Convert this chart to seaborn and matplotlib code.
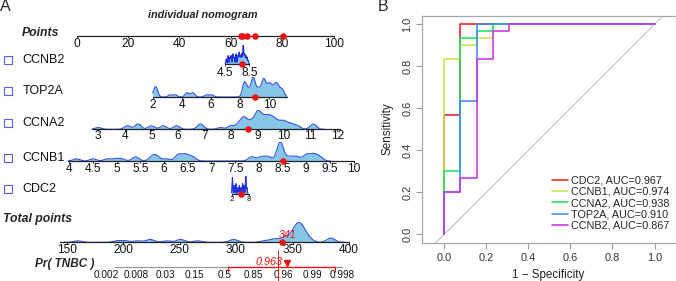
import numpy as np
import pandas as pd
import matplotlib
matplotlib.use("Agg")
import matplotlib.pyplot as plt
from matplotlib.lines import Line2D
from matplotlib.patches import Rectangle
import seaborn as sns

sns.set_theme(style="ticks")
plt.rcParams['font.family'] = ['Liberation Sans', 'DejaVu Sans']

# ------------------------------------------------------------------ data
genes = ["CCNB2", "TOP2A", "CCNA2", "CCNB1", "CDC2"]
patient_expr = [7.3, 9.0, 8.63, 8.5, 5.15]          # red dots on each gene axis
patient_points = [64.5, 69.4, 66.3, 80.2, 63.8]      # red dots on Points axis
patient_total = 341
patient_prob = 0.963

points_ticks = [0, 20, 40, 60, 80, 100]
ccnb2_ticks = [4.5, 8.5]
top2a_ticks = [2, 4, 6, 8, 10]
ccna2_ticks = [3, 4, 5, 6, 7, 8, 9, 10, 11, 12]
ccnb1_ticks = [4, 4.5, 5, 5.5, 6, 6.5, 7, 7.5, 8, 8.5, 9, 9.5, 10]
cdc2_ticks = [2, 8]
total_ticks = [150, 200, 250, 300, 350, 400]
pr_tick_labels = ["0.002", "0.008", "0.03", "0.15", "0.5", "0.85", "0.96", "0.99", "0.998"]
pr_tick_total = [185.6, 211.6, 237.6, 263.6, 289.6, 315.7, 341.7, 367.7, 393.7]
pr_red_segment = [292.9, 387.6]
pr_ref_line = 336.9

# observed distributions (value, count) read from the density bumps
ccnb2_vals = [4.7, 5.0, 5.3, 5.5, 5.8, 6.0, 6.3, 6.6, 6.8, 7.0, 7.2, 7.4, 7.5, 7.7, 7.9, 8.1, 8.3]
ccnb2_cnt = [3, 5, 4, 5, 6, 4, 6, 5, 7, 5, 6, 5, 9, 6, 5, 4, 2]
top2a_vals = [2.2, 3.2, 3.55, 4.35, 4.75, 5.7, 6.05, 8.3, 8.6, 8.9, 9.25, 9.6, 9.85, 10.05, 10.3, 10.5, 10.7, 10.9]
top2a_cnt = [5, 1, 1, 2, 2, 1, 1, 7, 3, 9, 4, 8, 3, 5, 3, 5, 2, 3]
ccna2_vals = [3.0, 4.1, 4.5, 5.0, 5.45, 5.95, 6.85, 7.6, 8.0, 8.3, 8.5, 8.75, 9.0, 9.2, 9.4, 9.6, 9.8, 10.0, 10.25, 10.5, 11.1]
ccna2_cnt = [1, 2, 3, 2, 2, 2, 3, 1, 2, 3, 6, 4, 9, 5, 6, 5, 3, 4, 3, 2, 3]
ccnb1_vals = [4.15, 4.5, 4.8, 4.97, 5.1, 5.4, 5.75, 5.85, 6.05, 6.3, 6.45, 6.6, 7.85, 8.05, 8.2, 8.45, 8.65, 8.8, 9.0, 9.15, 9.28]
ccnb1_cnt = [1, 1, 1, 1, 1, 2, 2, 2, 1, 3, 3, 2, 2, 2, 2, 9, 2, 2, 3, 3, 2]
cdc2_vals = [2.3, 2.9, 3.5, 4.2, 4.7, 5.3, 5.8, 6.3, 6.9, 7.3]
cdc2_cnt = [8, 4, 5, 3, 4, 3, 5, 4, 9, 3]
total_vals = [160, 195, 202, 213, 224, 239, 251, 266, 298, 325, 333, 340, 346, 352, 356, 360, 365, 384]
total_cnt = [1, 1, 1, 1, 2, 1, 2, 1, 2, 1, 2, 2, 3, 6, 8, 5, 2, 3]

# ROC curves (1 - specificity, sensitivity)
roc_labels = ["CDC2, AUC=0.967", "CCNB1, AUC=0.974", "CCNA2, AUC=0.938",
              "TOP2A, AUC=0.910", "CCNB2, AUC=0.867"]
cdc2_fpr = [0, 0, 0.077, 0.077, 1]
cdc2_tpr = [0, 0.567, 0.567, 1, 1]
ccnb1_fpr = [0, 0, 0.077, 0.077, 0.154, 0.154, 0.231, 0.231, 1]
ccnb1_tpr = [0, 0.833, 0.833, 0.9, 0.9, 0.933, 0.933, 1, 1]
ccna2_fpr = [0, 0, 0.077, 0.077, 0.154, 0.154, 0.231, 0.231, 1]
ccna2_tpr = [0, 0.3, 0.3, 0.933, 0.933, 0.967, 0.967, 1, 1]
top2a_fpr = [0, 0, 0.077, 0.077, 0.154, 0.154, 1]
top2a_tpr = [0, 0.2, 0.2, 0.633, 0.633, 1, 1]
ccnb2_fpr = [0, 0, 0.077, 0.077, 0.154, 0.154, 0.231, 0.231, 0.308, 0.308, 1]
ccnb2_tpr = [0, 0.2, 0.2, 0.267, 0.267, 0.833, 0.833, 0.967, 0.967, 1, 1]
roc_colors = ["#E8201E", "#D2E24A", "#22E060", "#3D8CF2", "#C633E8"]

# ------------------------------------------------------------------ layout
W, H, DPI = 676, 281, 100
fig = plt.figure(figsize=(W / DPI, H / DPI), dpi=DPI)
RED = "#EE1111"
LINE = "#222222"
FILL = "#86C6E8"
EDGE = "#3353E3"
TICK_FS = 8.6


def make_row(baseline, height, va, pa, vb, pb):
    ax = fig.add_axes([0, (H - baseline) / H, 1, height / H])
    k = (vb - va) / (pb - pa)
    ax.set_xlim(va - pa * k, va + (W - pa) * k)
    ax.set_ylim(0, height)
    ax.set_axis_off()
    return ax


def density(ax, vals, cnt, bw, height, lo, hi, spiky=False):
    v = np.asarray(vals, float)
    w = np.asarray(cnt, float)
    sd = np.sqrt(np.cov(v, aweights=w))
    xl = ax.get_xlim()
    kw = dict(x=v, weights=w, bw_method=bw / sd, gridsize=800, clip=(lo, hi), ax=ax)
    sns.kdeplot(fill=True, color=FILL, alpha=1, linewidth=0, **kw)
    sns.kdeplot(fill=False, color=EDGE if not spiky else "#1F2FE0", linewidth=0.8, **kw)
    peak = ax.lines[-1].get_ydata().max()
    ax.set_xlim(*xl)
    ax.set_ylim(0, peak)
    ax.set_axis_off()


def axis_line(ax, lo, hi, ticks, labels, height, off, fs=TICK_FS, color=LINE):
    ypp = (ax.get_ylim()[1] - ax.get_ylim()[0]) / height
    ax.plot([lo, hi], [0, 0], color=color, lw=0.9, clip_on=False, zorder=3)
    ax.vlines(ticks, -2.0 * ypp, 0, color=color, lw=0.7, clip_on=False, zorder=3)
    for t, s in zip(ticks, labels):
        ax.annotate(s, xy=(t, 0), xytext=(0, -off), textcoords="offset pixels",
                    ha="center", va="center", fontsize=fs, color="#111111",
                    annotation_clip=False)


def red_dot(ax, x, ms=3.7):
    ax.plot([x], [0], "o", color=RED, ms=ms, mec=RED, clip_on=False, zorder=6)


def fmt(t):
    return f"{t:g}"

# Points row
axP = make_row(36, 10, 0, 76.5, 100, 333.7)
axis_line(axP, 0, 100, points_ticks, [fmt(t) for t in points_ticks], 10, 8)
for p in patient_points:
    red_dot(axP, p)

rows = [
    # baseline, height, map, range, ticks, vals, cnt, bw, label offset, spiky, fs
    (64, 19, (4.5, 225, 8.5, 249.5), (4.5, 8.5), ccnb2_ticks, ccnb2_vals, ccnb2_cnt, 0.07, 9, True, TICK_FS),
    (97, 20, (2, 152.7, 10, 269.3), (2, 11.2), top2a_ticks, top2a_vals, top2a_cnt, 0.14, 8, False, TICK_FS),
    (129.3, 19, (3, 98.3, 12, 337.2), (2.75, 12.1), ccna2_ticks, ccna2_vals, ccna2_cnt, 0.12, 7, False, TICK_FS),
    (161, 19, (4, 69.3, 9.5, 330), (3.97, 10), ccnb1_ticks, ccnb1_vals, ccnb1_cnt, 0.07, 8, False, TICK_FS),
    (193.5, 18, (2, 231.5, 8, 249), (2, 8), cdc2_ticks, cdc2_vals, cdc2_cnt, 0.12, 6, True, 5.8),
]
for (base, hgt, mp, rng, ticks, vals, cnt, bw, off, spiky, fs), x in zip(rows, patient_expr):
    ax = make_row(base, hgt, *mp)
    density(ax, vals, cnt, bw, hgt, rng[0], rng[1], spiky)
    axis_line(ax, rng[0], rng[1], ticks, [fmt(t) for t in ticks], hgt, off, fs=fs)
    red_dot(ax, x)

# Total points row
axT = make_row(242.3, 20, 150, 66.5, 400, 349)
density(axT, total_vals, total_cnt, 3.6, 20, 144, 400)
axis_line(axT, 144, 400, total_ticks, [fmt(t) for t in total_ticks], 20, 7.5)
red_dot(axT, patient_total)
axT.annotate(str(patient_total), xy=(patient_total, 0), xytext=(5, 7.5), textcoords="offset pixels",
             ha="center", va="center", fontsize=7.6, color=RED, style="italic",
             annotation_clip=False, zorder=7)

# Pr(TNBC) row (same total-points scale)
axR0 = make_row(267.3, 10, 150, 66.5, 400, 349)
axR0.plot([pr_tick_total[0] + 7, pr_tick_total[-1]], [0, 0], color="#9A9A9A", lw=0.9, clip_on=False)
for t, s in zip(pr_tick_total, pr_tick_labels):
    axR0.annotate(s, xy=(t, 0), xytext=(0, -8), textcoords="offset pixels",
                  ha="center", va="center", fontsize=7.2, color="#111111",
                  annotation_clip=False)
axR0.plot(pr_red_segment, [0, 0], color=RED, lw=0.9, clip_on=False, zorder=4)
axR0.vlines(pr_red_segment, -5, 0, color=RED, lw=0.9, clip_on=False, zorder=4)
axR0.vlines([pr_ref_line], -14, 17, color=RED, lw=0.7, clip_on=False, zorder=4)
axR0.plot([patient_total + 4], [4], marker="v", color=RED, ms=5, clip_on=False, zorder=6)
axR0.annotate(f"{patient_prob:.3f}", xy=(patient_total, 0), xytext=(-13, 5.5),
              textcoords="offset pixels", ha="center", va="center", fontsize=7.8,
              color=RED, style="italic", annotation_clip=False, zorder=7)

# overlay for left-panel text (pixel coordinates)
axO = fig.add_axes([0, 0, 1, 1])
axO.set_xlim(0, W)
axO.set_ylim(H, 0)
axO.set_axis_off()
axO.text(5, 6.5, "A", fontsize=11.5, ha="center", va="center")
axO.text(203, 15, "individual nomogram", fontsize=7.8, weight="bold", style="italic",
         ha="center", va="center")
axO.text(22, 33, "Points", fontsize=8.8, weight="bold", style="italic", ha="left", va="center")
label_y = [60, 91, 123, 157.7, 189]
for g, y in zip(genes, label_y):
    axO.add_patch(Rectangle((3.5, y - 4), 8, 8, fill=False, ec="#5A5AEE", lw=0.8))
    axO.text(22.5, y, g, fontsize=9.0, ha="left", va="center", color="#111111")
axO.text(3, 219, "Total points", fontsize=8.8, weight="bold", style="italic", ha="left", va="center")
axO.text(35, 263.5, "Pr( TNBC )", fontsize=8.5, weight="bold", style="italic", ha="left", va="center")
axO.text(383, 6.5, "B", fontsize=11.5, ha="center", va="center")

# ------------------------------------------------------------------ ROC panel
left, right, top, bottom = 422, 675.5, 15.7, 243.3
axB = fig.add_axes([left / W, (H - bottom) / H, (right - left) / W, (bottom - top) / H])
fprs = [cdc2_fpr, ccnb1_fpr, ccna2_fpr, top2a_fpr, ccnb2_fpr]
tprs = [cdc2_tpr, ccnb1_tpr, ccna2_tpr, top2a_tpr, ccnb2_tpr]
roc_df = pd.concat([pd.DataFrame({"fpr": f, "tpr": t, "model": lab})
                    for f, t, lab in zip(fprs, tprs, roc_labels)], ignore_index=True)
axB.axline((0, 0), (1, 1), color="#C4C4C4", lw=0.8, zorder=1)
sns.lineplot(data=roc_df, x="fpr", y="tpr", hue="model", hue_order=roc_labels,
             palette=roc_colors, sort=False, estimator=None, linewidth=1.15,
             legend=False, ax=axB, zorder=3)
axB.set_xlim((left - 444.3) / 210.2, (right - 444.3) / 210.2)
axB.set_ylim((234.3 - bottom) / 210.0, (234.3 - top) / 210.0)
ticks = [0, 0.2, 0.4, 0.6, 0.8, 1.0]
axB.set_xticks(ticks)
axB.set_yticks(ticks)
axB.set_xticklabels([f"{t:.1f}" for t in ticks])
axB.set_yticklabels([f"{t:.1f}" for t in ticks])
axB.tick_params(axis="both", length=4, width=0.8, color="#9C9C9C", labelsize=7.9,
                labelcolor="#333333", pad=3)
plt.setp(axB.get_yticklabels(), rotation=90, va="center", ha="right")
for s in axB.spines.values():
    s.set_color("#A8A8A8")
    s.set_linewidth(0.9)
axB.set_xlabel("")
axB.set_ylabel("")
axO.text(548, 275, "1 \u2212 Specificity", fontsize=8.4, ha="center", va="center", color="#222222")
axO.text(388, 129, "Sensitivity", fontsize=8.4, ha="center", va="center", rotation=90, color="#222222")

handles = [Line2D([], [], color=c, lw=1.15) for c in roc_colors]
axB.legend(handles, roc_labels, loc="upper left", bbox_to_anchor=(551.7 / W, 1 - 175.5 / H),
           bbox_transform=fig.transFigure, frameon=False, fontsize=7.8, handlelength=1.55,
           handletextpad=0.2, labelspacing=0.12, borderpad=0, borderaxespad=0)

fig.savefig("out.png", dpi=DPI)
